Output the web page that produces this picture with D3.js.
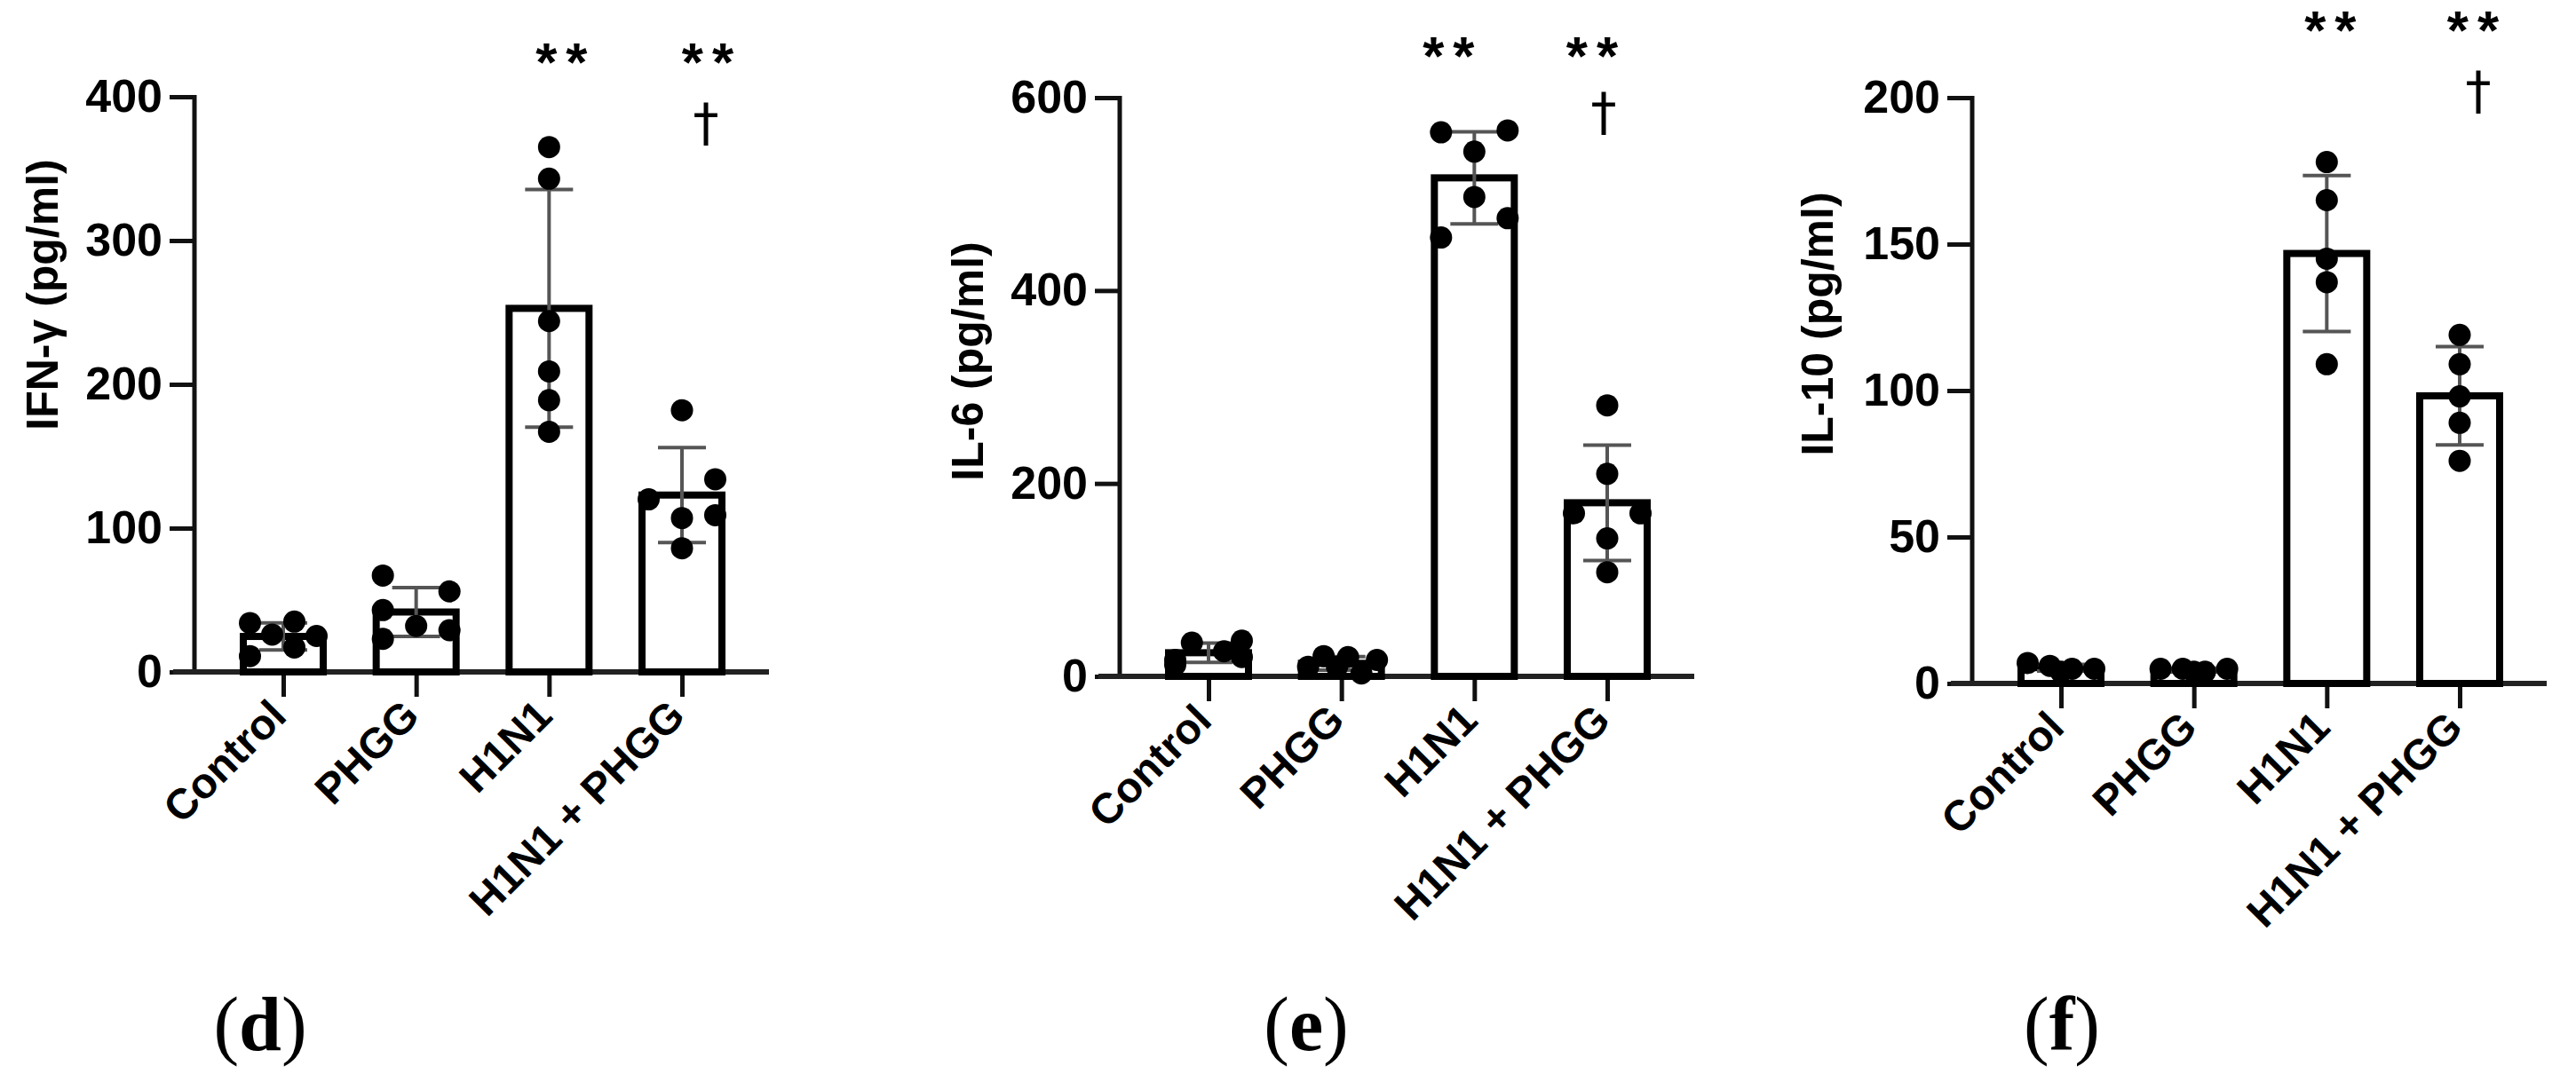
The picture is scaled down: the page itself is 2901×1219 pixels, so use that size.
<!DOCTYPE html>
<html><head><meta charset="utf-8">
<script src="https://cdn.jsdelivr.net/npm/d3@7"></script>
<style>body{margin:0;background:#fff}svg{display:block}</style>
</head><body>
<svg id="c" width="2901" height="1219"></svg>
<script>
const categories = ["Control", "PHGG", "H1N1", "H1N1 + PHGG"];
// individual data points per group (pg/ml)
const ifnValues = [[34,35,26,25,17,11],[67,56,43,32,29,23],[365,343,244,209,189,167],[182,120,134,107,109,86]];
const il6Values = [[35,37,17,20,12,26],[21,20,17,10,3,10],[564,566,544,497,475,455],[281,210,169,169,143,108]];
const il10Values = [[7,6,5,5,4],[5,5,4,5,4],[178,165,145,137,109],[119,109,98,89,76]];
// horizontal jitter of dots, in dot diameters
const ifnJitter = [[-1.5,0.5,-0.5,1.5,0.5,-1.5],[-1.5,1.5,-1.5,0,1.5,-1.5],[0,0,0,0,0,0],[0,-1.5,1.5,0,1.5,0]];
const il6Jitter = [[-0.75,1.5,-1.5,1.5,-1.5,0.7],[-0.8,0.3,1.6,-1.5,0.9,-0.2],[-1.5,1.5,0,0,1.5,-1.5],[0,0,-1.5,1.5,0,0]];
const il10Jitter = [[-1.5,-0.5,0.5,1.5,0],[-1.5,-0.5,0.5,1.5,0],[0,0,0,0,0],[0,0,0,0,0]];
const ifnTicks = [0,100,200,300,400];
const il6Ticks = [0,200,400,600];
const il10Ticks = [0,50,100,150,200];
const yLabels = ["IFN-γ (pg/ml)", "IL-6 (pg/ml)", "IL-10 (pg/ml)"];
const panelLetters = ["d", "e", "f"];
const starLabel = "**";
const daggerLabel = "†";

const panels = [
  {vals: ifnValues, jit: ifnJitter, ticks: ifnTicks, ax: 219, y0: 757, yTop: 109, lab: yLabels[0], labX: 48, labY: 332, letter: panelLetters[0], letX: 293,
   starY: 69, dagY: 134, starDx: [0,0,19,34], dagDx: 27},
  {vals: il6Values, jit: il6Jitter, ticks: il6Ticks, ax: 1261, y0: 762, yTop: 110, lab: yLabels[1], labX: 1090, labY: 407, letter: panelLetters[1], letX: 1471,
   starY: 62, dagY: 122, starDx: [0,0,-24,-12], dagDx: -4},
  {vals: il10Values, jit: il10Jitter, ticks: il10Ticks, ax: 2221, y0: 770, yTop: 110, lab: yLabels[2], labX: 2047, labY: 365, letter: panelLetters[2], letX: 2322,
   starY: 33, dagY: 98, starDx: [0,0,9,20], dagDx: 21}
];

const svg = d3.select("#c");
const FONT = "'Liberation Sans', Arial, sans-serif";
const dotR = 12.5, barW = 98;

panels.forEach(p => {
  const g = svg.append("g");
  const dom = p.ticks[p.ticks.length-1];
  const y = d3.scaleLinear().domain([0, dom]).range([p.y0, p.yTop]);
  const x = d3.scalePoint().domain(categories).range([p.ax + 100, p.ax + 549]);

  const yAxis = g.append("g").attr("transform", `translate(${p.ax},0)`)
    .call(d3.axisLeft(y).tickValues(p.ticks).tickSize(28).tickPadding(8).tickFormat(d3.format("d")));
  yAxis.select(".domain").attr("stroke", "#111").attr("stroke-width", 5).attr("d", `M0,${p.yTop-2}V${p.y0}`);
  yAxis.selectAll(".tick line").attr("stroke", "#111").attr("stroke-width", 5);
  yAxis.selectAll(".tick text").attr("font-family", FONT).attr("font-weight", "bold").attr("font-size", 52).attr("fill", "#000");

  const xAxis = g.append("g").attr("transform", `translate(0,${p.y0})`)
    .call(d3.axisBottom(x).tickSize(28).tickFormat(""));
  xAxis.select(".domain").attr("stroke", "#222").attr("stroke-width", 6).attr("d", `M${p.ax-24},0H${p.ax+647}`);
  xAxis.selectAll(".tick line").attr("stroke", "#111").attr("stroke-width", 5);
  categories.forEach(c => {
    g.append("text").attr("transform", `translate(${x(c)+6},${p.y0+52}) rotate(-45)`)
      .attr("text-anchor", "end").attr("font-family", FONT).attr("font-weight", "bold")
      .attr("font-size", 48).text(c);
  });

  g.append("text").attr("transform", `translate(${p.labX},${p.labY}) rotate(-90)`)
    .attr("text-anchor", "middle").attr("dominant-baseline", "central")
    .attr("font-family", FONT).attr("font-weight", "bold").attr("font-size", 50).text(p.lab);

  const stats = p.vals.map(v => ({m: d3.mean(v), sd: d3.deviation(v)}));

  g.selectAll(".bar").data(categories).join("rect")
    .attr("x", c => x(c) - barW/2 + 4).attr("width", barW - 8)
    .attr("y", (c,i) => y(stats[i].m)).attr("height", (c,i) => p.y0 - y(stats[i].m))
    .attr("fill", "#fff").attr("stroke", "#000").attr("stroke-width", 8);

  categories.forEach((c,i) => {
    const s = stats[i], cx = x(c);
    const eg = g.append("g").attr("stroke", "#555").attr("stroke-width", 4);
    eg.append("line").attr("x1", cx).attr("x2", cx).attr("y1", y(s.m+s.sd)).attr("y2", y(Math.max(0,s.m-s.sd)));
    eg.append("line").attr("x1", cx-27).attr("x2", cx+27).attr("y1", y(s.m+s.sd)).attr("y2", y(s.m+s.sd));
    eg.append("line").attr("x1", cx-27).attr("x2", cx+27).attr("y1", y(Math.max(0,s.m-s.sd))).attr("y2", y(Math.max(0,s.m-s.sd)));
  });

  categories.forEach((c,i) => {
    g.selectAll(null).data(p.vals[i]).join("circle")
      .attr("cx", (v,j) => x(c) + p.jit[i][j]*2*dotR)
      .attr("cy", v => y(v)).attr("r", dotR).attr("fill", "#000");
  });

  [2,3].forEach(i => {
    g.append("text").attr("x", x(categories[i]) + p.starDx[i]).attr("y", p.starY + 22)
      .attr("text-anchor", "middle").attr("font-family", FONT).attr("font-weight", "bold")
      .attr("font-size", 62).attr("letter-spacing", 10).text(starLabel);
  });
  g.append("text").attr("x", x(categories[3]) + p.dagDx).attr("y", p.dagY + 24)
    .attr("text-anchor", "middle").attr("font-family", "'DejaVu Sans', sans-serif").attr("font-size", 58).text(daggerLabel);

  const t = g.append("text").attr("x", p.letX).attr("y", 1183).attr("text-anchor", "middle")
    .attr("font-family", "'Liberation Serif', 'Times New Roman', serif").attr("font-size", 86);
  t.append("tspan").text("(");
  t.append("tspan").attr("font-weight", "bold").text(p.letter);
  t.append("tspan").text(")");
});
</script>
</body></html>
